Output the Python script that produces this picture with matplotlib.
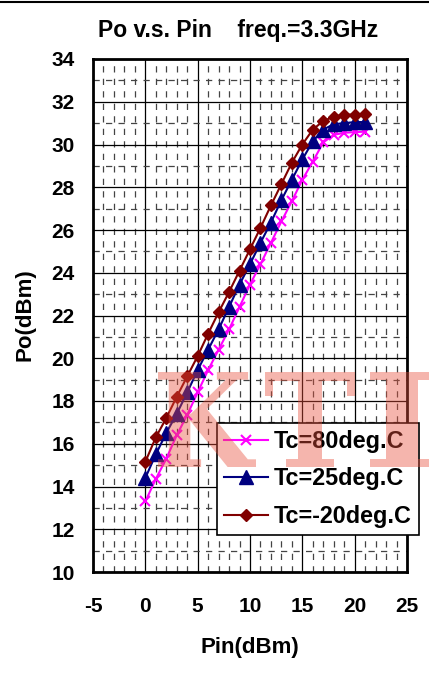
import numpy as np
import matplotlib
matplotlib.use("Agg")
from matplotlib import pyplot as plt
from matplotlib.lines import Line2D
from matplotlib.textpath import TextPath
from matplotlib.patches import PathPatch
from matplotlib.font_manager import FontProperties
from matplotlib.transforms import Affine2D

pin = [0, 1, 2, 3, 4, 5, 6, 7, 8, 9, 10, 11, 12, 13, 14, 15, 16, 17, 18, 19, 20, 21]

po_80 = [13.3, 14.35, 15.3, 16.4, 17.35, 18.4, 19.45, 20.4, 21.35, 22.4, 23.45,
         24.4, 25.4, 26.4, 27.35, 28.35, 29.2, 30.1, 30.45, 30.55, 30.58, 30.6]
po_25 = [14.4, 15.5, 16.5, 17.4, 18.4, 19.45, 20.4, 21.35, 22.4, 23.45, 24.4,
         25.4, 26.35, 27.4, 28.35, 29.3, 30.15, 30.7, 30.95, 31.0, 31.05, 31.05]
po_m20 = [15.15, 16.3, 17.2, 18.2, 19.15, 20.1, 21.15, 22.15, 23.1, 24.1, 25.1,
          26.1, 27.15, 28.15, 29.15, 30.0, 30.7, 31.1, 31.3, 31.4, 31.4, 31.45]

labels = ["Tc=80deg.C", "Tc=25deg.C", "Tc=-20deg.C"]

plt.rcParams['font.family'] = ['Liberation Sans', 'DejaVu Sans']
plt.rcParams['font.weight'] = 'bold'
plt.rcParams['axes.unicode_minus'] = False


def main():
    fig = plt.figure(figsize=(4.29, 6.76), dpi=100)
    W, H = 429.0, 676.0
    ax = fig.add_axes([93 / W, 1 - 572 / H, (407 - 93) / W, (572 - 59) / H])

    ax.plot(pin, po_80, color='#ff00ff', lw=1.5, marker='x', ms=7, mew=1.5, label=labels[0])
    ax.plot(pin, po_25, color='#000080', lw=1.5, marker='^', ms=9.5, label=labels[1])
    ax.plot(pin, po_m20, color='#800000', lw=1.5, marker='D', ms=6.5, label=labels[2])

    ax.set_xlim(-5, 25)
    ax.set_ylim(10, 34)
    ax.set_xticks(np.arange(-5, 26, 5))
    ax.set_yticks(np.arange(10, 35, 2))
    ax.set_xticks(np.arange(-5, 26, 1), minor=True)
    ax.set_yticks(np.arange(11, 34, 2), minor=True)
    ax.tick_params(which='both', length=0)
    ax.tick_params(axis='x', pad=18, labelsize=15)
    ax.tick_params(axis='y', pad=13, labelsize=15)
    for t in ax.get_xticklabels() + ax.get_yticklabels():
        t.set_fontweight('bold')

    ax.grid(which='major', color='black', lw=0.9)
    ax.grid(which='minor', color='#444444', lw=0.9, linestyle=(0, (5, 5)))
    ax.set_axisbelow(True)
    for s in ax.spines.values():
        s.set_linewidth(2)

    ax.set_xlabel("Pin(dBm)", fontsize=16, fontweight='bold')
    ax.set_ylabel("Po(dBm)", fontsize=16, fontweight='bold')
    ax.xaxis.set_label_coords(250 / W, 1 - 648 / H, transform=fig.transFigure)
    ax.yaxis.set_label_coords(25 / W, 1 - 315 / H, transform=fig.transFigure)
    ax.xaxis.label.set_va('center')
    ax.yaxis.label.set_va('center')
    fig.text(238 / W, 1 - 31 / H, "Po v.s. Pin    freq.=3.3GHz", fontsize=16.5,
             fontweight='bold', ha='center', va='center')

    leg = ax.legend(loc='upper left', bbox_to_anchor=(217 / W, 1 - 423 / H),
                    bbox_transform=fig.transFigure,
                    fontsize=16.8, frameon=True, fancybox=False, edgecolor='black',
                    framealpha=1, handlelength=1.9, borderpad=0.3, labelspacing=0.62,
                    handletextpad=0.25, borderaxespad=0)
    leg.get_frame().set_linewidth(1.2)
    for t in leg.get_texts():
        t.set_fontweight('bold')
    leg.set_zorder(5)

    # top rule
    fig.add_artist(Line2D([0, 1], [1 - 1.5 / H, 1 - 1.5 / H], color='black', lw=1.5))

    # watermark, each letter fitted into its box (left, right) in pixels
    fp = FontProperties(family='DejaVu Serif', weight='bold')
    top, bottom = 372, 467
    for ch, (x0, x1) in zip("KTI", [(158, 256), (265, 355), (370, 434)]):
        tp = TextPath((0, 0), ch, size=1, prop=fp)
        ext = tp.get_extents()
        sx = (x1 - x0) / ext.width
        sy = (bottom - top) / ext.height
        tr = (Affine2D().translate(-ext.x0, -ext.y0).scale(sx, sy)
              .translate(x0, H - bottom).scale(1 / W, 1 / H) + fig.transFigure)
        patch = PathPatch(tp, transform=tr, facecolor='#e8503c', edgecolor='none',
                          alpha=0.42, zorder=10)
        fig.add_artist(patch)

    fig.savefig("out.png", dpi=100)


if __name__ == "__main__":
    main()
